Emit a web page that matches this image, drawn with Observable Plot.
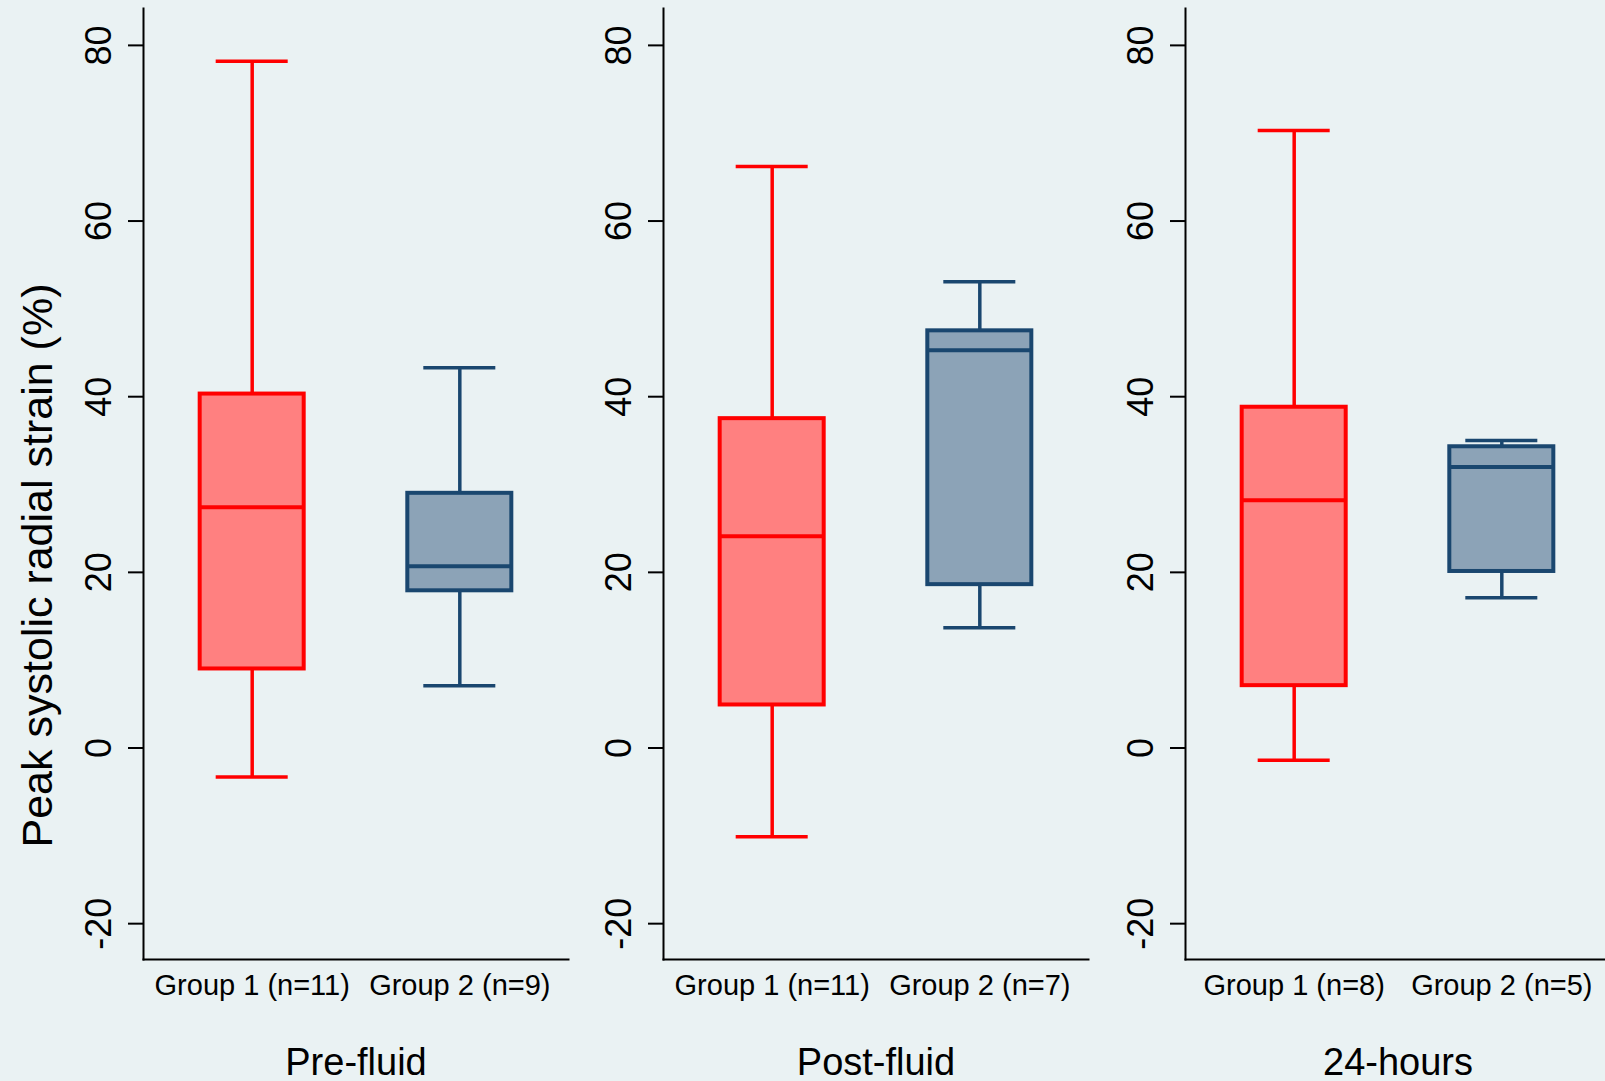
<!DOCTYPE html>
<html>
<head>
<meta charset="utf-8">
<script src="https://cdn.jsdelivr.net/npm/d3@7"></script>
<script src="https://cdn.jsdelivr.net/npm/@observablehq/plot@0.6"></script>
<style>
  html, body { margin: 0; padding: 0; background: #EAF2F3; overflow: hidden; width: 1605px; height: 1081px; }
  #chart { position: relative; width: 1605px; height: 1081px; }
  #chart svg { position: absolute; top: 0; }
</style>
</head>
<body>
<div id="chart"></div>
<script>
// ---- Data ----
const panels = ["Pre-fluid", "Post-fluid", "24-hours"];
const groupLabels = [
  ["Group 1 (n=11)", "Group 2 (n=9)"],
  ["Group 1 (n=11)", "Group 2 (n=7)"],
  ["Group 1 (n=8)", "Group 2 (n=5)"]
];
const lowerWhisker = [[-3.3, 7.1], [-10.1, 13.7], [-1.4, 17.1]];
const lowerQuartile = [[9.0, 17.9], [4.9, 18.6], [7.1, 20.1]];
const medians = [[27.4, 20.7], [24.1, 45.3], [28.2, 32.0]];
const upperQuartile = [[40.3, 29.0], [37.5, 47.5], [38.8, 34.3]];
const upperWhisker = [[78.2, 43.3], [66.2, 53.1], [70.3, 35.0]];
const yTicks = [-20, 0, 20, 40, 60, 80];
const yTitle = "Peak systolic radial strain (%)";

// ---- Styling ----
const fills = ["#FF8080", "#8CA3B7"];
const strokes = ["#FF0000", "#1A476F"];
const panelLefts = [0, 520, 1042];
const yDomain = [-24.08, 84.2];
const font = "'Liberation Sans', Arial, sans-serif";

const chart = document.getElementById("chart");

panels.forEach((name, p) => {
  const rows = groupLabels[p].map((g, i) => ({
    group: g, k: i,
    lo: lowerWhisker[p][i], q1: lowerQuartile[p][i], med: medians[p][i],
    q3: upperQuartile[p][i], hi: upperWhisker[p][i]
  }));
  const fillOf = d => fills[d.k];
  const strokeOf = d => strokes[d.k];

  const marks = [
    Plot.frame({anchor: "left", stroke: "#000", strokeWidth: 2}),
    Plot.frame({anchor: "bottom", stroke: "#000", strokeWidth: 2}),
    Plot.axisY({ticks: yTicks, tickFormat: d => String(d), tickSize: 15, tickPadding: 18,
      tickRotate: -90, fontSize: 36, color: "#000", strokeWidth: 2, label: null}),
    Plot.axisX({tickSize: 0, tickPadding: 15, fontSize: 29, color: "#000", label: null}),
    Plot.ruleX(rows, {x: "group", y1: "lo", y2: "q1", stroke: strokeOf, strokeWidth: 3.5}),
    Plot.ruleX(rows, {x: "group", y1: "q3", y2: "hi", stroke: strokeOf, strokeWidth: 3.5}),
    Plot.tickY(rows, {x: "group", y: "lo", stroke: strokeOf, strokeWidth: 3.5, inset: 16}),
    Plot.tickY(rows, {x: "group", y: "hi", stroke: strokeOf, strokeWidth: 3.5, inset: 16}),
    Plot.barY(rows, {x: "group", y1: "q1", y2: "q3", fill: fillOf, stroke: strokeOf, strokeWidth: 4}),
    Plot.tickY(rows, {x: "group", y: "med", stroke: strokeOf, strokeWidth: 4}),
    Plot.text([name], {frameAnchor: "bottom", dy: 115, lineAnchor: "bottom",
      fontSize: 38, fill: "#000"})
  ];
  if (p === 0) {
    marks.push(Plot.text([yTitle], {frameAnchor: "left", rotate: -90, dx: -92, dy: 81.5,
      lineAnchor: "bottom", textAnchor: "middle", fontSize: 43, fill: "#000"}));
  }

  const svg = Plot.plot({
    width: 580,
    height: 1081,
    marginTop: 8,
    marginBottom: 122,
    marginLeft: 143,
    marginRight: 12,
    style: {background: "transparent", fontFamily: font, overflow: "visible"},
    x: {domain: groupLabels[p], paddingInner: 0.499, paddingOuter: 0.273, round: false},
    y: {domain: yDomain, round: false},
    marks
  });
  svg.style.left = panelLefts[p] + "px";
  chart.appendChild(svg);
});
</script>
</body>
</html>
